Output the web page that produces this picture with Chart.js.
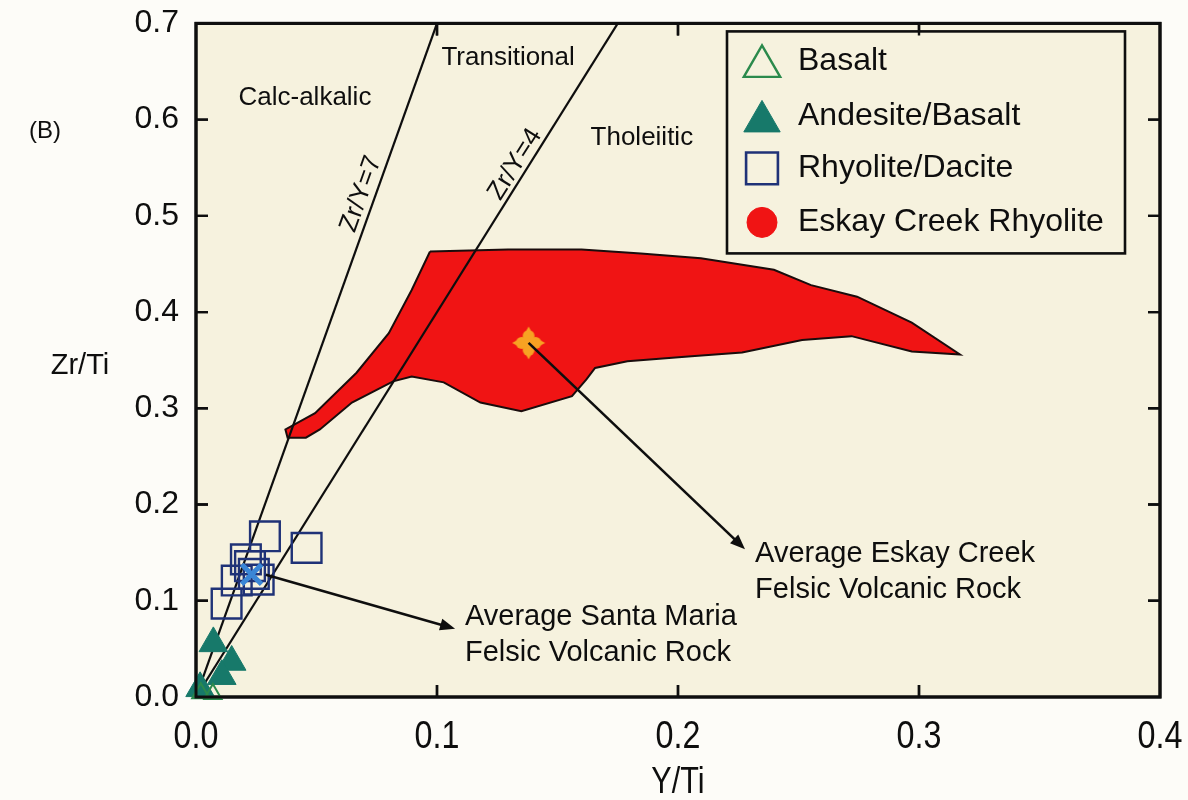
<!DOCTYPE html>
<html>
<head>
<meta charset="utf-8">
<title>Zr/Ti vs Y/Ti</title>
<script src="https://cdn.jsdelivr.net/npm/chart.js@4.4.1/dist/chart.umd.min.js"></script>
<style>
  html, body { margin: 0; padding: 0; background: #fdfcf8; }
  #wrap { width: 1188px; height: 800px; }
</style>
</head>
<body>
<div id="wrap"><canvas id="chart" width="1188" height="800"></canvas></div>
<script>
// ---- axis ticks ----
const xTickValues = [0.0, 0.1, 0.2, 0.3, 0.4];
const yTickValues = [0.0, 0.1, 0.2, 0.3, 0.4, 0.5, 0.6, 0.7];

// ---- sample groups (Y/Ti, Zr/Ti) ----
const basaltX = [0.002, 0.007];
const basaltY = [0.004, 0.003];

const andesiteX = [0.0072, 0.0148, 0.0107, 0.0017];
const andesiteY = [0.0557, 0.0364, 0.0216, 0.009];

const rhyoliteX = [0.0286, 0.0459, 0.0207, 0.0224, 0.0240, 0.0169, 0.0127, 0.0260];
const rhyoliteY = [0.167, 0.155, 0.143, 0.136, 0.128, 0.121, 0.097, 0.122];

// Eskay Creek rhyolite field outline (closed)
const eskayFieldX = [0.0971, 0.1295, 0.160, 0.1846, 0.2095, 0.2398, 0.2552, 0.2743, 0.297, 0.317,
                     0.297, 0.272, 0.2515, 0.2266, 0.2056, 0.179, 0.1656, 0.162, 0.156, 0.135,
                     0.118, 0.1028, 0.0895, 0.0818, 0.0647, 0.0514, 0.0456, 0.038, 0.0371,
                     0.0494, 0.0666, 0.080, 0.0895, 0.0971];
const eskayFieldY = [0.463, 0.465, 0.465, 0.461, 0.456, 0.444, 0.428, 0.416, 0.389, 0.356,
                     0.359, 0.375, 0.371, 0.358, 0.354, 0.349, 0.342, 0.330, 0.3127, 0.297,
                     0.306, 0.327, 0.333, 0.328, 0.306, 0.278, 0.2695, 0.2695, 0.278,
                     0.295, 0.337, 0.378, 0.423, 0.463];

// averages
const avgSantaMaria = [0.0231, 0.1275];
const avgEskayCreek = [0.138, 0.368];

// Zr/Y discriminant lines through the origin
const zrYRatios = [7, 4];
const zrYLabels = ['Zr/Y=7', 'Zr/Y=4'];
const zrYLabelPos = [[0.0685, 0.5227], [0.1324, 0.5536]];

// field names
const fieldNames = ['Calc-alkalic', 'Transitional', 'Tholeiitic'];
const fieldNamePos = [[0.0452, 0.623], [0.1295, 0.664], [0.185, 0.581]];

// callouts: [from x, from y, to x, to y], text anchor, text lines
const calloutArrows = [[0.138, 0.368, 0.2278, 0.1536], [0.029, 0.127, 0.1075, 0.071]];
const calloutAnchors = [[0.232, 0.149], [0.1116, 0.0829]];
const calloutTexts = [['Average Eskay Creek', 'Felsic Volcanic Rock'],
                      ['Average Santa Maria', 'Felsic Volcanic Rock']];

const SANS = '"Liberation Sans", Arial, Helvetica, sans-serif';
const INK = '#0e0e0e';
const PLOT_BG = '#f6f2de';

const pts = (xs, ys) => xs.map((x, i) => ({ x: x, y: ys[i] }));

// orange four-lobed marker
function makeFoil(size, color) {
  const c = document.createElement('canvas');
  c.width = c.height = size;
  const g = c.getContext('2d');
  const m = size / 2, R = size / 2 - 0.5;
  g.fillStyle = color;
  for (let k = 0; k < 4; k++) {
    const a = k * Math.PI / 2;
    const ca = Math.cos(a), sa = Math.sin(a);
    g.beginPath();
    g.arc(m + ca * R * 0.42, m + sa * R * 0.42, R * 0.36, 0, Math.PI * 2);
    g.fill();
    g.beginPath();
    g.moveTo(m + ca * R, m + sa * R);
    g.lineTo(m + ca * R * 0.45 - sa * R * 0.3, m + sa * R * 0.45 + ca * R * 0.3);
    g.lineTo(m + ca * R * 0.45 + sa * R * 0.3, m + sa * R * 0.45 - ca * R * 0.3);
    g.closePath();
    g.fill();
  }
  g.fillRect(m - R * 0.3, m - R * 0.3, R * 0.6, R * 0.6);
  return c;
}
const foil = makeFoil(34, '#f7a223');

function drawArrow(ctx, x1, y1, x2, y2) {
  const ang = Math.atan2(y2 - y1, x2 - x1);
  const L = 15, W = 6;
  ctx.save();
  ctx.strokeStyle = INK;
  ctx.fillStyle = INK;
  ctx.lineWidth = 2.6;
  ctx.beginPath();
  ctx.moveTo(x1, y1);
  ctx.lineTo(x2 - Math.cos(ang) * L * 0.8, y2 - Math.sin(ang) * L * 0.8);
  ctx.stroke();
  ctx.beginPath();
  ctx.moveTo(x2, y2);
  ctx.lineTo(x2 - Math.cos(ang) * L - Math.sin(ang) * W, y2 - Math.sin(ang) * L + Math.cos(ang) * W);
  ctx.lineTo(x2 - Math.cos(ang) * L + Math.sin(ang) * W, y2 - Math.sin(ang) * L - Math.cos(ang) * W);
  ctx.closePath();
  ctx.fill();
  ctx.restore();
}

// condensed text (tall, narrow lettering)
function narrowText(ctx, text, x, y, size, squeeze) {
  ctx.save();
  ctx.translate(x, y);
  ctx.scale(squeeze, 1);
  ctx.font = size + 'px ' + SANS;
  ctx.textAlign = 'center';
  ctx.textBaseline = 'middle';
  ctx.fillText(text, 0, 0);
  ctx.restore();
}

// plot frame with inward ticks on all four sides
function drawFrame(chart) {
  const { ctx, chartArea: a, scales: { x, y } } = chart;
  ctx.save();
  ctx.strokeStyle = INK;
  ctx.lineWidth = 3;
  ctx.strokeRect(a.left, a.top, a.right - a.left, a.bottom - a.top);
  ctx.lineWidth = 2.4;
  const T = 12;
  ctx.beginPath();
  xTickValues.slice(1, -1).forEach(v => {
    const p = x.getPixelForValue(v);
    ctx.moveTo(p, a.bottom); ctx.lineTo(p, a.bottom - T);
    ctx.moveTo(p, a.top); ctx.lineTo(p, a.top + T);
  });
  yTickValues.slice(1, -1).forEach(v => {
    const p = y.getPixelForValue(v);
    ctx.moveTo(a.left, p); ctx.lineTo(a.left + T, p);
    ctx.moveTo(a.right, p); ctx.lineTo(a.right - T, p);
  });
  ctx.stroke();
  ctx.restore();
}

const decor = {
  id: 'decor',
  beforeDraw(chart) {
    const { ctx, chartArea: a } = chart;
    ctx.save();
    ctx.fillStyle = '#fdfcf8';
    ctx.fillRect(0, 0, chart.width, chart.height);
    ctx.fillStyle = PLOT_BG;
    ctx.fillRect(a.left, a.top, a.right - a.left, a.bottom - a.top);
    ctx.restore();
  },
  beforeDatasetsDraw(chart) {
    const { ctx, chartArea: a, scales: { x } } = chart;
    drawFrame(chart);
    // x tick labels in condensed lettering
    ctx.save();
    ctx.fillStyle = INK;
    x.ticks.forEach(t => {
      narrowText(ctx, Number(t.value).toFixed(1), x.getPixelForValue(t.value), a.bottom + 41, 38, 0.85);
    });
    ctx.restore();
  },
  afterDatasetsDraw(chart) {
    const { ctx, chartArea: a, scales: { x, y } } = chart;
    ctx.save();
    ctx.fillStyle = INK;

    // discriminant line labels, rotated along each line
    zrYRatios.forEach((r, i) => {
      const x0 = x.getPixelForValue(0), y0 = y.getPixelForValue(0);
      const x1 = x.getPixelForValue(0.7 / r), y1 = y.getPixelForValue(0.7);
      const ang = Math.atan2(y1 - y0, x1 - x0);
      ctx.save();
      ctx.translate(x.getPixelForValue(zrYLabelPos[i][0]), y.getPixelForValue(zrYLabelPos[i][1]));
      ctx.rotate(ang);
      ctx.font = '26px ' + SANS;
      ctx.textAlign = 'center';
      ctx.textBaseline = 'middle';
      ctx.fillText(zrYLabels[i], 0, 0);
      ctx.restore();
    });

    // field names
    ctx.font = '26px ' + SANS;
    ctx.textAlign = 'center';
    ctx.textBaseline = 'middle';
    fieldNames.forEach((t, i) => {
      ctx.fillText(t, x.getPixelForValue(fieldNamePos[i][0]), y.getPixelForValue(fieldNamePos[i][1]));
    });

    // callouts
    calloutArrows.forEach((c, i) => {
      drawArrow(ctx, x.getPixelForValue(c[0]), y.getPixelForValue(c[1]),
                x.getPixelForValue(c[2]), y.getPixelForValue(c[3]));
      ctx.font = '29px ' + SANS;
      ctx.fillStyle = INK;
      ctx.textAlign = 'left';
      ctx.textBaseline = 'middle';
      const tx = x.getPixelForValue(calloutAnchors[i][0]);
      const ty = y.getPixelForValue(calloutAnchors[i][1]);
      calloutTexts[i].forEach((line, j) => ctx.fillText(line, tx, ty + j * 36));
    });

    // legend box
    const bx = a.right - 433, by = a.top + 8, bw = 398, bh = 222;
    ctx.fillStyle = PLOT_BG;
    ctx.fillRect(bx, by, bw, bh);
    ctx.strokeStyle = INK;
    ctx.lineWidth = 2.6;
    ctx.strokeRect(bx, by, bw, bh);
    const rows = [30, 85, 137, 191];
    chart.data.datasets.filter(d => d.legendMarker).forEach((d, i) => {
      const m = d.legendMarker;
      const cy = by + rows[i];
      ctx.save();
      ctx.fillStyle = m.fill || 'rgba(0,0,0,0)';
      ctx.strokeStyle = m.stroke;
      ctx.lineWidth = m.width;
      Chart.helpers.drawPoint(ctx, {
        pointStyle: m.style, radius: m.radius, rotation: 0, borderWidth: m.width
      }, bx + 35, cy + (m.dy || 0));
      ctx.restore();
      ctx.fillStyle = INK;
      ctx.font = '32px ' + SANS;
      ctx.textAlign = 'left';
      ctx.textBaseline = 'middle';
      ctx.fillText(d.label, bx + 71, cy);
    });

    // frame ticks stay visible over the legend box
    drawFrame(chart);

    // axis titles and panel tag
    ctx.fillStyle = INK;
    ctx.textAlign = 'center';
    ctx.textBaseline = 'middle';
    ctx.font = '29px ' + SANS;
    ctx.fillText('Zr/Ti', 80, 366);
    narrowText(ctx, 'Y/Ti', (a.left + a.right) / 2, 783, 36, 0.85);
    ctx.font = '24px ' + SANS;
    ctx.fillText('(B)', 45, 131);
    ctx.restore();
  }
};

const ctx = document.getElementById('chart').getContext('2d');
new Chart(ctx, {
  type: 'scatter',
  data: {
    datasets: [
      {
        label: 'Basalt',
        data: pts(basaltX, basaltY),
        pointStyle: 'triangle', pointRadius: 10, borderWidth: 2,
        backgroundColor: 'rgba(0,0,0,0)', borderColor: '#2b8a4c',
        clip: false, order: 4,
        legendMarker: { style: 'triangle', radius: 21, width: 2.4, stroke: '#2b8a4c', dy: 5 }
      },
      {
        label: 'Andesite/Basalt',
        data: pts(andesiteX, andesiteY),
        pointStyle: 'triangle', pointRadius: 16.5, borderWidth: 1,
        backgroundColor: '#17796a', borderColor: '#17796a',
        clip: false, order: 5,
        legendMarker: { style: 'triangle', radius: 21, width: 1, fill: '#17796a', stroke: '#17796a', dy: 5 }
      },
      {
        label: 'Rhyolite/Dacite',
        data: pts(rhyoliteX, rhyoliteY),
        pointStyle: 'rect', pointRadius: 21, borderWidth: 2.4,
        backgroundColor: 'rgba(0,0,0,0)', borderColor: '#1f3277',
        clip: false, order: 3,
        legendMarker: { style: 'rect', radius: 22.5, width: 2.6, stroke: '#1f3277' }
      },
      {
        label: 'Eskay Creek Rhyolite',
        data: pts(eskayFieldX, eskayFieldY),
        showLine: true, fill: 'shape', tension: 0,
        backgroundColor: '#f01414', borderColor: '#1a0c0c', borderWidth: 2,
        pointRadius: 0, order: 10,
        legendMarker: { style: 'circle', radius: 15, width: 1, fill: '#f01414', stroke: '#f01414' }
      },
      {
        label: 'Zr/Y=7',
        data: [{ x: 0, y: 0 }, { x: 0.7 / zrYRatios[0], y: 0.7 }],
        showLine: true, borderColor: INK, borderWidth: 2.2, pointRadius: 0, order: 8
      },
      {
        label: 'Zr/Y=4',
        data: [{ x: 0, y: 0 }, { x: 0.7 / zrYRatios[1], y: 0.7 }],
        showLine: true, borderColor: INK, borderWidth: 2.2, pointRadius: 0, order: 8
      },
      {
        label: 'Average Santa Maria Felsic Volcanic Rock',
        data: [{ x: avgSantaMaria[0], y: avgSantaMaria[1] }],
        pointStyle: 'crossRot', pointRadius: 14, borderWidth: 5,
        borderColor: '#3a86d6', backgroundColor: '#3a86d6', order: 2
      },
      {
        label: 'Average Eskay Creek Felsic Volcanic Rock',
        data: [{ x: avgEskayCreek[0], y: avgEskayCreek[1] }],
        pointStyle: foil, order: 1
      }
    ]
  },
  options: {
    responsive: false,
    animation: false,
    events: [],
    layout: { padding: { top: 18, right: 28, left: 0, bottom: 0 } },
    plugins: { legend: { display: false }, tooltip: { enabled: false } },
    scales: {
      x: {
        type: 'linear', min: 0, max: 0.4,
        afterBuildTicks(s) { s.ticks = xTickValues.map(v => ({ value: v })); },
        afterFit(s) { s.height = 103; s.paddingLeft = 0; s.paddingRight = 0; },
        ticks: { display: false },
        grid: { display: false }, border: { display: false }
      },
      y: {
        type: 'linear', min: 0, max: 0.7,
        afterBuildTicks(s) { s.ticks = yTickValues.map(v => ({ value: v })); },
        afterFit(s) { s.width = 196; s.paddingTop = 0; s.paddingBottom = 0; },
        ticks: {
          callback: v => Number(v).toFixed(1),
          font: { family: SANS, size: 32 }, color: INK, padding: 9
        },
        grid: { display: false, tickLength: 8 }, border: { display: false }
      }
    }
  },
  plugins: [decor]
});
</script>
</body>
</html>
